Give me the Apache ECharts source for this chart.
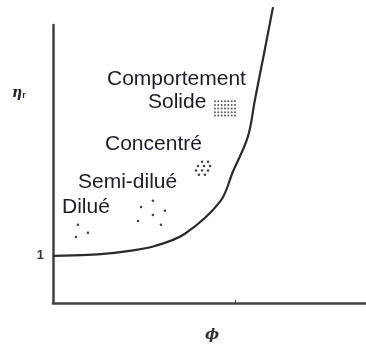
<!DOCTYPE html>
<html>
<head>
<meta charset="utf-8">
<script src="https://cdn.jsdelivr.net/npm/echarts@6/dist/echarts.min.js"></script>
<style>
  html, body { margin: 0; padding: 0; background: #fff; }
  #main { width: 366px; height: 344px; }
</style>
</head>
<body>
<div id="main"></div>
<script>
// viscosity curve (phi, eta_r)
var curvePhi = [0, 0.192, 0.379, 0.560, 0.725, 0.918, 0.989, 1.071, 1.110, 1.159, 1.209];
var curveEta = [1.0, 1.02, 1.085, 1.21, 1.47, 2.15, 2.79, 3.53, 4.32, 5.28, 6.28];

// particle sketches for each regime
var diluePhi = [0.137, 0.126, 0.192];
var dilueEta = [1.66, 1.40, 1.49];
var semiPhi = [0.484, 0.549, 0.549, 0.615, 0.467, 0.593];
var semiEta = [2.04, 2.17, 1.87, 1.96, 1.74, 1.66];
var concPhi = [0.819, 0.852, 0.797, 0.830, 0.863, 0.786, 0.819, 0.852, 0.802, 0.835];
var concEta = [3.00, 3.00, 2.91, 2.91, 2.91, 2.81, 2.81, 2.81, 2.72, 2.72];
var solidCols = [0.890, 0.908, 0.927, 0.945, 0.963, 0.982, 1.000];
var solidRows = [4.28, 4.20, 4.13, 4.05, 3.98];

var labels = ['Comportement', 'Solide', 'Concentré', 'Semi-dilué', 'Dilué'];

function pairs(xs, ys) {
  return xs.map(function (x, i) { return [x, ys[i]]; });
}

var solidPts = [];
solidRows.forEach(function (r) {
  solidCols.forEach(function (c) { solidPts.push([c, r]); });
});

var dotStyle = { color: '#111' };
var txtFont = '21px "Liberation Sans"';
var txtFill = '#1c1c2a';
var myChart = echarts.init(document.getElementById('main'));
var option = {
  animation: false,
  grid: { left: 53, right: 0, top: 25, bottom: 41, containLabel: false, outerBoundsMode: 'none' },
  xAxis: {
    type: 'value', min: 0, max: 1.72, interval: 1,
    axisLine: { lineStyle: { color: '#404040', width: 2.5 } },
    axisTick: { show: true, inside: true, length: 3, lineStyle: { color: '#404040' } },
    axisLabel: { show: false },
    splitLine: { show: false }
  },
  yAxis: {
    type: 'value', min: 0, max: 5.9, interval: 1,
    axisLine: { show: true, lineStyle: { color: '#404040', width: 2.5 } },
    axisTick: { show: false },
    axisLabel: {
      margin: 9, fontSize: 13, fontWeight: 'bold', color: '#333', fontFamily: 'Liberation Sans',
      formatter: function (v) { return v === 1 ? '1' : ''; }
    },
    splitLine: { show: false }
  },
  graphic: [
    { type: 'text', left: 12, top: 86, style: {
        text: '{a|η}{b|r}', rich: {
          a: { fontSize: 14, fontStyle: 'italic', fontWeight: 'bold', fontFamily: 'DejaVu Serif', fill: '#223' },
          b: { fontSize: 9, fontWeight: 'bold', fontFamily: 'Liberation Sans', fill: '#223', padding: [6, 0, 0, 0] }
        } } },
    { type: 'text', x: 212, y: 335, style: {
        text: 'ϕ', font: 'italic bold 15px "DejaVu Serif"', fill: '#333', align: 'center', verticalAlign: 'middle' } },
    { type: 'text', x: 107, y: 79.6, style: { text: labels[0], font: txtFont, fill: txtFill, verticalAlign: 'middle' } },
    { type: 'text', x: 148, y: 102.6, style: { text: labels[1], font: txtFont, fill: txtFill, verticalAlign: 'middle' } },
    { type: 'text', x: 105, y: 144.6, style: { text: labels[2], font: txtFont, fill: txtFill, verticalAlign: 'middle' } },
    { type: 'text', x: 78, y: 182.6, style: { text: labels[3], font: txtFont, fill: txtFill, verticalAlign: 'middle' } },
    { type: 'text', x: 62, y: 207.6, style: { text: labels[4], font: txtFont, fill: txtFill, verticalAlign: 'middle' } }
  ],
  series: [
    {
      type: 'line', data: pairs(curvePhi, curveEta), smooth: 0.35, clip: false,
      showSymbol: false, lineStyle: { color: '#2a2a2a', width: 2.2 }
    },
    { type: 'scatter', data: pairs(diluePhi, dilueEta), symbolSize: 2.5, itemStyle: dotStyle },
    { type: 'scatter', data: pairs(semiPhi, semiEta), symbolSize: 2.5, itemStyle: dotStyle },
    { type: 'scatter', data: pairs(concPhi, concEta), symbolSize: 2.5, itemStyle: dotStyle },
    { type: 'scatter', data: solidPts, symbolSize: 2, itemStyle: { color: '#333' } }
  ]
};
myChart.setOption(option);
</script>
</body>
</html>
